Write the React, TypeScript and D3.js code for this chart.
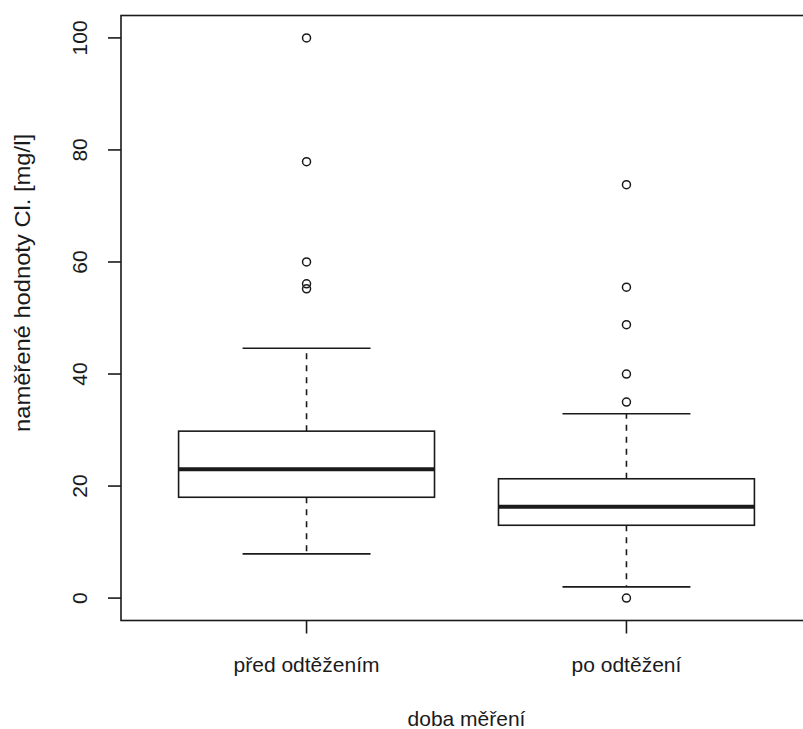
import React from 'react';
import * as d3 from 'd3';

// categories and five-number summaries
const categories = ['před odtěžením', 'po odtěžení'];
// [lower whisker, Q1, median, Q3, upper whisker]
const predStats = [7.9, 18.0, 23.0, 29.8, 44.6];
const poStats = [2.0, 13.0, 16.3, 21.3, 32.9];
const predOutliers = [55.2, 56.1, 60, 77.9, 100];
const poOutliers = [0, 35, 40, 48.8, 55.5, 73.8];
const yTicks = [0, 20, 40, 60, 80, 100];

const xTitle = 'doba měření';
const yTitle = 'naměřené hodnoty Cl. [mg/l]';

const W = 803;
const H = 729;
const FONT = '"Liberation Sans", Arial, sans-serif';
const INK = '#1a1a1a';

export default function App() {
  const groups = [
    { label: categories[0], stats: predStats, out: predOutliers },
    { label: categories[1], stats: poStats, out: poOutliers },
  ];

  // R-style plot region: x in [0.42, 2.58], y in [-4, 104]
  const x = d3.scaleLinear().domain([0.42, 2.58]).range([121, 812]);
  const y = d3.scaleLinear().domain([-4, 104]).range([620.5, 15.5]);

  const boxHalf = 0.4;
  const capHalf = 0.2;

  return (
    <svg
      width={W}
      height={H}
      style={{ position: 'absolute', left: 0, top: 0, background: '#fff' }}
      fontFamily={FONT}
    >
      <rect x={0} y={0} width={W} height={H} fill="#fff" />

      {/* frame */}
      <rect
        x={x(0.42)}
        y={y(104)}
        width={x(2.58) - x(0.42)}
        height={y(-4) - y(104)}
        fill="none"
        stroke={INK}
        strokeWidth={1.6}
      />

      {/* y axis ticks + labels */}
      {yTicks.map((t) => (
        <g key={t}>
          <line x1={108} x2={x(0.42)} y1={y(t)} y2={y(t)} stroke={INK} strokeWidth={1.6} />
          <text
            transform={`translate(87,${y(t)}) rotate(-90)`}
            textAnchor="middle"
            fontSize={21}
            fill={INK}
          >
            {t}
          </text>
        </g>
      ))}

      {/* x axis ticks + labels */}
      {groups.map((g, i) => (
        <g key={g.label}>
          <line x1={x(i + 1)} x2={x(i + 1)} y1={y(-4)} y2={y(-4) + 13} stroke={INK} strokeWidth={1.6} />
          <text x={x(i + 1)} y={672} textAnchor="middle" fontSize={21} fill={INK}>
            {g.label}
          </text>
        </g>
      ))}

      {/* boxes */}
      {groups.map((g, i) => {
        const c = i + 1;
        const [lo, q1, med, q3, hi] = g.stats;
        return (
          <g key={'box' + i} stroke={INK} fill="none">
            <line x1={x(c)} x2={x(c)} y1={y(q3)} y2={y(hi)} strokeWidth={1.6} strokeDasharray="6,6" />
            <line x1={x(c)} x2={x(c)} y1={y(q1)} y2={y(lo)} strokeWidth={1.6} strokeDasharray="6,6" />
            <line x1={x(c - capHalf)} x2={x(c + capHalf)} y1={y(hi)} y2={y(hi)} strokeWidth={1.6} />
            <line x1={x(c - capHalf)} x2={x(c + capHalf)} y1={y(lo)} y2={y(lo)} strokeWidth={1.6} />
            <rect
              x={x(c - boxHalf)}
              y={y(q3)}
              width={x(c + boxHalf) - x(c - boxHalf)}
              height={y(q1) - y(q3)}
              fill="#fff"
              strokeWidth={1.6}
            />
            <line x1={x(c - boxHalf)} x2={x(c + boxHalf)} y1={y(med)} y2={y(med)} strokeWidth={4} />
            {g.out.map((v, k) => (
              <circle key={k} cx={x(c)} cy={y(v)} r={4} fill="none" strokeWidth={1.5} />
            ))}
          </g>
        );
      })}

      {/* axis titles */}
      <text x={x(1.5)} y={726} textAnchor="middle" fontSize={21} fill={INK}>
        {xTitle}
      </text>
      <text
        transform={`translate(30,${283}) rotate(-90)`}
        textAnchor="middle"
        fontSize={22}
        textLength={298}
        lengthAdjust="spacingAndGlyphs"
        fill={INK}
      >
        {yTitle}
      </text>
    </svg>
  );
}
